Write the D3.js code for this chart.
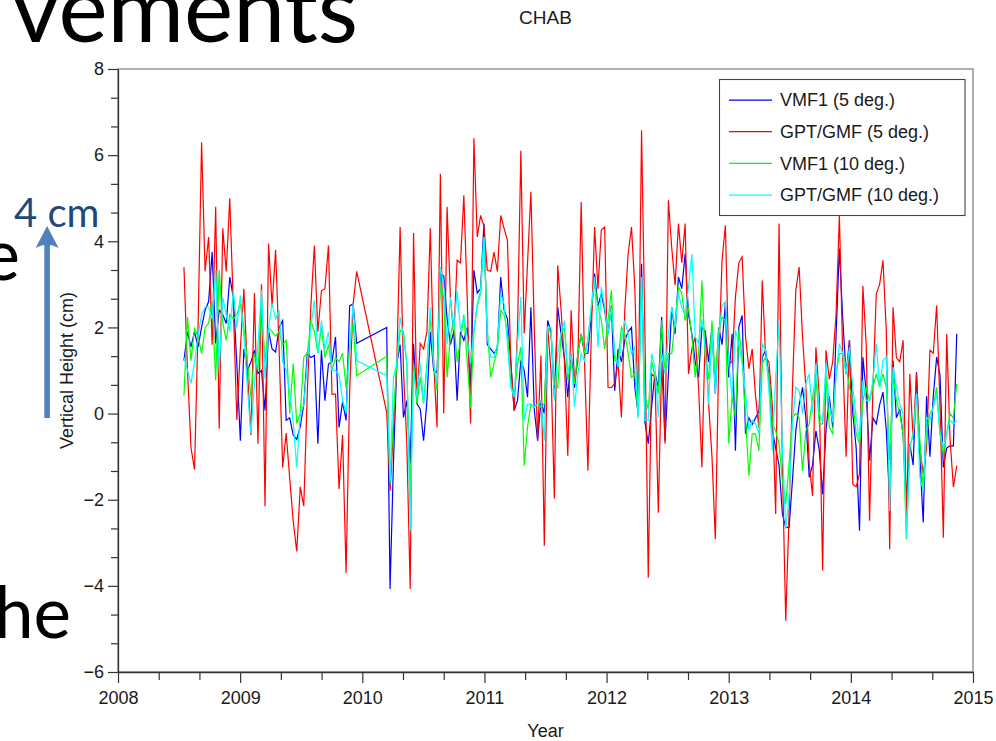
<!DOCTYPE html>
<html>
<head>
<meta charset="utf-8">
<script src="https://cdn.jsdelivr.net/npm/d3@7"></script>
<style>
  html, body { margin: 0; padding: 0; background: #fff; }
  svg { display: block; }
</style>
</head>
<body>
<svg id="fig" width="996" height="741"></svg>
<script>
// ---- Station CHAB: vertical height time series (cm) ----
const stationName = "CHAB";
const xLabel = "Year";
const yLabel = "Vertical Height (cm)";
const yearTicks = [2008, 2009, 2010, 2011, 2012, 2013, 2014, 2015];
const heightTicks = [-6, -4, -2, 0, 2, 4, 6, 8];
const seriesNames = ["VMF1 (5 deg.)", "GPT/GMF (5 deg.)", "VMF1 (10 deg.)", "GPT/GMF (10 deg.)"];
const seriesColors = ["#0000ff", "#ff0000", "#00ff00", "#00ffff"];

// Solution spans (decimal year); samples are evenly spaced inside each span
const spanEarly = [2008.540, 2009.954];
const spanLate = [2010.200, 2014.867];

// VMF1, 5 deg cutoff
const vmf5Early = [1.23, 1.9, 1.55, 1.9, 1.55, 2.0, 2.4, 2.6, 3.75, 1.63,
  2.4, 2.3, 2.09, 3.17, 2.7, 1.16, -0.63, 1.5, 1.0, 1.2,
  1.47, 0.93, 1.0, 0.07, 1.93, 1.5, 1.43, 2.0, 2.16, -0.16,
  -0.1, -0.5, -0.6, -0.3, 0.22, 1.4, 1.3, 1.35, -0.7, 1.47,
  0.3, 1.15, 1.2, 1.78, -0.32, 0.27, -0.16, 2.5, 2.55, 1.63];
const vmf5Late = [2.0, -4.07, -1.16, 1.16, 1.6, -0.09, 0.3, -1.16, 1.62, 0.23,
  0.1, -0.63, 0.3, 1.9, 1.0, 0.95, 3.25, 3.2, 2.2, 1.6,
  1.9, 0.3, 1.9, 1.7, 2.0, 0.6, 3.33, 2.8, 2.9, 4.41,
  1.6, 1.5, 1.4, 1.5, 3.17, 2.4, 2.2, 1.2, 0.07, 0.3,
  1.23, 1.0, 0.38, 2.47, 0.1, -0.63, 0.3, 0.0, 2.16, 1.9,
  0.38, 2.47, 1.85, 1.3, 0.38, 1.39, 0.6, 1.39, 1.85, 1.39,
  1.4, 2.3, 3.25, 2.5, 2.78, 2.4, 1.85, 2.5, 0.53, 1.5,
  1.2, 1.7, 1.9, 2.0, 0.6, 0.0, 3.48, -0.2, -0.7, 0.15,
  0.95, 0.6, 2.24, -0.63, 0.9, 2.47, 1.85, 3.17, 2.9, 3.71,
  2.3, 1.85, 1.2, 0.84, 2.0, 1.9, 1.2, 2.0, 0.46, 2.0,
  1.6, 2.55, 0.84, 1.85, -0.86, 2.0, 2.28, -0.47, -0.1, -0.25,
  -0.1, 0.05, 1.31, 1.47, 0.84, -0.4, -0.8, -1.2, -2.33, -2.64,
  -2.64, -1.55, -0.4, 0.2, 0.61, -0.1, -1.48, -1.2, -0.4, -0.85,
  -1.87, -0.4, 0.4, -0.32, 1.8, 3.83, 2.2, 0.92, 1.7, 0.0,
  -0.8, -2.72, 1.31, 0.5, -1.09, -0.1, -0.24, 0.2, 0.5, -0.4,
  -2.1, 1.23, -0.1, 0.1, -0.5, -2.02, -0.7, -1.2, 0.96, -1.0,
  -2.53, 0.4, -1.0, 0.4, 1.31, 0.9, -1.25, -0.8, -0.75, -0.75,
  1.85];

// GPT/GMF, 5 deg cutoff
const gpt5Early = [3.4, 1.0, -0.8, -1.3, 2.0, 6.3, 3.3, 4.1, 1.6, 4.8,
  -0.35, 4.3, 3.3, 5.0, 2.5, -0.15, 1.5, 2.9, 1.0, -0.5,
  2.8, -0.7, 3.0, -2.15, 3.95, 2.5, 3.8, 1.5, -1.25, -0.45,
  -1.5, -2.5, -3.2, -1.7, -2.15, 0.5, 2.5, 3.9, 1.9, 2.85,
  2.9, 3.9, 0.45, 0.45, -1.75, -0.5, -3.7, 0.5, 2.55, 3.3];
const gpt5Late = [0.03, -1.79, -0.4, 1.16, 4.33, 1.0, -0.7, -4.07, 4.19, 0.23,
  1.63, 1.5, 1.9, 4.3, 1.2, -0.32, 5.57, 0.0, 4.8, 2.7,
  1.8, 3.56, 3.5, 5.07, 2.7, -0.23, 6.39, 4.1, 4.6, 4.35,
  3.33, 3.3, 3.75, 3.3, 4.6, 4.3, 4.02, 1.2, 0.07, 1.9,
  6.1, 1.86, 3.5, 5.15, 2.0, -0.63, 1.35, -3.07, 2.0, 1.0,
  -1.98, 3.44, 2.4, 1.2, -0.98, 2.4, 0.77, 1.2, 4.91, 1.2,
  -1.33, 1.8, 4.33, 2.9, 4.26, 4.33, 0.61, 0.6, 0.7, 1.2,
  -0.09, 2.4, 3.71, 4.33, 2.9, 0.0, 6.58, 1.9, -3.81, 0.92,
  0.85, -2.3, 1.2, -0.7, 4.95, 3.85, 2.98, 4.41, 3.5, 4.41,
  0.92, 1.5, 1.78, 0.61, -1.25, 1.93, 0.22, -1.0, -2.92, 1.16,
  3.56, 4.37, 1.16, 1.2, 2.71, 3.5, 3.64, 1.8, 1.04, 1.5,
  0.4, -0.32, 3.09, 1.3, 1.2, 0.2, -2.33, 4.41, -1.25, -4.81,
  -2.3, 0.6, 2.86, 3.4, 1.8, 0.6, -1.17, -1.91, 1.54, 0.4,
  -3.65, 1.47, 0.8, 1.2, 2.3, 4.6, 1.3, -1.0, 1.7, -1.64,
  -1.7, -1.4, 2.96, 1.6, -2.49, 0.6, 2.78, 3.0, 3.56, 1.9,
  -3.15, 2.47, 1.3, 1.2, 1.7, -2.49, 0.92, -0.6, 0.92, -0.8,
  -1.4, -0.8, 1.47, 1.4, 2.51, 0.2, -2.88, 1.85, -0.6, -1.71,
  -1.21];

// VMF1, 10 deg cutoff
const vmf10Early = [0.42, 2.24, 1.23, 1.97, 1.8, 1.39, 2.0, 2.1, 2.6, 0.77,
  3.33, 2.1, 1.7, 2.3, 2.2, 2.3, 2.56, 2.0, 1.2, 0.38,
  1.4, 1.0, 2.56, 1.2, 2.0, 1.9, 1.8, 1.9, 1.6, 1.7,
  0.0, 1.16, -0.23, 0.0, 1.31, 1.4, 2.16, 1.9, 1.4, 2.0,
  1.3, 1.6, 1.0, 1.3, 1.2, 1.4, 0.61, 1.5, 2.1, 0.88];
const vmf10Late = [1.33, -1.64, -0.09, 1.16, 1.93, 1.9, 1.16, -1.95, 1.16, 0.23,
  0.84, 0.23, 1.16, 2.24, 1.16, 0.53, 3.02, 2.7, 0.84, 1.8,
  2.2, 1.2, 1.7, 2.3, 1.2, 0.15, 1.9, 2.5, 2.8, 4.1,
  2.0, 0.84, 1.16, 1.5, 2.4, 2.3, 1.9, 0.69, 0.4, 1.16,
  1.54, -1.21, -0.3, 0.22, 0.15, 0.22, 0.15, 0.22, 2.0, 1.85,
  0.69, 0.6, 1.85, 2.0, 0.77, 1.2, 0.69, 1.4, 1.85, 1.4,
  1.7, 2.47, 3.02, 2.5, 2.16, 1.5, 2.16, 2.86, 1.23, 1.23,
  2.0, 1.85, 1.39, 0.84, 0.92, -0.09, 3.09, 0.4, 0.1, 1.23,
  0.84, 0.46, 2.16, 0.92, 1.39, 1.39, 2.16, 2.94, 2.8, 2.16,
  2.47, 1.78, 0.84, 1.39, 3.09, 1.3, 0.8, 2.16, 0.77, 1.93,
  2.24, 2.16, -0.7, 0.4, -0.1, 1.93, 1.31, -0.09, -1.44, -0.47,
  -0.47, -0.86, 1.16, 1.31, 0.84, -0.24, -0.4, -0.7, -1.56, -2.1,
  -1.17, -0.09, 0.0, -0.09, -1.33, -0.4, -0.24, 0.38, 0.84, -0.24,
  -0.24, 0.84, -0.32, -0.47, 0.9, 1.39, 1.39, 1.1, 0.61, 0.3,
  -0.47, -0.7, 0.3, 0.6, 0.3, 0.61, 0.92, 0.61, 0.92, 0.61,
  -1.09, 0.92, 0.3, 0.0, -0.47, -2.92, -0.78, -0.47, 0.46, -0.63,
  -1.79, -0.47, 0.0, 0.15, 0.61, -0.47, -0.94, -0.47, 0.0, -0.1,
  0.69];

// GPT/GMF, 10 deg cutoff
const gpt10Early = [1.31, 1.0, 0.7, 1.2, 1.8, 2.3, 2.47, 2.47, 2.2, 3.33,
  1.0, 2.7, 2.3, 1.9, 2.86, 2.0, 2.74, 1.8, 0.6, -0.47,
  0.7, 1.6, 2.86, 0.8, 2.0, 2.56, 2.2, 2.4, 1.2, 1.0,
  0.5, -0.2, -1.25, 0.0, 0.2, 1.2, 2.0, 2.63, 1.4, 2.16,
  1.5, 1.9, 1.0, 1.0, 0.9, 0.3, 0.0, 1.5, 2.56, 1.23];
const gpt10Late = [0.88, -1.56, 0.84, 1.16, 2.24, 1.78, 1.16, -2.72, 1.0, 0.38,
  1.16, 0.23, 1.0, 2.47, 1.16, 0.7, 3.4, 3.02, 1.62, 2.7,
  1.93, 2.86, 1.93, 2.24, 1.78, 1.16, 1.93, 2.55, 2.86, 4.1,
  1.78, 1.31, 1.31, 1.62, 2.78, 2.55, 1.62, 0.61, 0.38, 1.62,
  2.71, -0.16, 0.22, 0.22, 0.15, 0.22, 0.3, -0.63, 2.0, 2.0,
  0.3, 1.4, 1.85, 2.16, 0.92, 1.39, 0.15, 0.92, 1.39, 1.23,
  1.7, 2.47, 3.17, 1.54, 2.94, 2.47, 1.85, 2.47, 1.39, 1.08,
  1.7, 2.16, 1.85, 1.39, 1.54, -0.09, 3.17, -0.16, -0.16, 1.39,
  1.08, -0.09, 1.39, 0.92, 1.85, 2.47, 2.0, 2.78, 2.47, 2.3,
  2.94, 3.71, 1.78, 1.62, 2.2, 1.5, 0.22, 1.93, 0.46, 1.78,
  2.5, 2.6, 1.16, 0.38, 1.93, 1.62, 1.16, 0.5, -0.4, -0.16,
  -0.24, -0.47, 1.62, 1.47, 0.53, -0.86, 0.84, 2.12, -0.78, -2.68,
  -1.94, -0.24, 0.61, 0.53, 0.0, 0.7, 0.92, 0.0, 1.16, 0.0,
  -0.2, 1.16, 0.2, -0.2, 0.9, 1.62, 1.39, 0.92, 1.54, 0.61,
  -0.09, -0.63, 0.77, 0.3, 0.3, 0.77, 1.62, 0.61, 1.23, 1.31,
  -2.26, 1.08, 0.61, 0.22, 0.0, -2.88, -0.78, -0.47, 0.46, -1.48,
  -1.79, -0.09, -0.16, 0.15, 0.46, -0.47, -0.78, -0.47, -0.16, -0.24,
  -0.16];

// ---- layout ----
const svg = d3.select("#fig");
const W = 996, H = 741;
const plot = { left: 118, right: 973, top: 69, bottom: 672 };
const chartFont = '"Liberation Sans", Arial, Helvetica, sans-serif';
const slideFont = 'Lato, "Open Sans", sans-serif';
const inkColor = "#1a1a1a";

svg.append("rect").attr("width", W).attr("height", H).attr("fill", "#fff");

const x = d3.scaleLinear().domain([2008, 2015]).range([plot.left, plot.right]);
const y = d3.scaleLinear().domain([-6, 8]).range([plot.bottom, plot.top]);

// epochs evenly spaced within a span
function spanEpochs(span, n) {
  return d3.range(n).map(i => span[0] + i * (span[1] - span[0]) / (n - 1));
}

const seriesData = [
  [vmf5Early, vmf5Late],
  [gpt5Early, gpt5Late],
  [vmf10Early, vmf10Late],
  [gpt10Early, gpt10Late]
].map(([early, late], k) => {
  const t = spanEpochs(spanEarly, early.length).concat(spanEpochs(spanLate, late.length));
  const v = early.concat(late);
  return { name: seriesNames[k], color: seriesColors[k], points: t.map((tt, i) => [tt, v[i]]) };
});

// plot frame (top / right edges)
svg.append("rect")
  .attr("x", plot.left).attr("y", plot.top)
  .attr("width", plot.right - plot.left).attr("height", plot.bottom - plot.top)
  .attr("fill", "none").attr("stroke", "#7a7a7a").attr("stroke-width", 1.2);

// series lines
svg.append("clipPath").attr("id", "plotClip").append("rect")
  .attr("x", plot.left).attr("y", plot.top)
  .attr("width", plot.right - plot.left).attr("height", plot.bottom - plot.top);

const line = d3.line().x(d => x(d[0])).y(d => y(d[1]));
svg.append("g").attr("clip-path", "url(#plotClip)")
  .selectAll("path").data(seriesData).join("path")
  .attr("d", d => line(d.points))
  .attr("fill", "none")
  .attr("stroke", d => d.color)
  .attr("stroke-width", 1.2)
  .attr("stroke-linejoin", "miter");

// axes
function styleAxis(g) {
  g.attr("font-size", 18).attr("font-family", chartFont);
  g.selectAll(".domain").attr("stroke", "#333").attr("stroke-width", 1.3);
  g.selectAll(".tick line").attr("stroke", "#333").attr("stroke-width", 1.2);
  g.selectAll(".tick text").attr("fill", inkColor);
}

const minorYears = d3.range(2008, 2015).flatMap(v => [v + 1 / 3, v + 2 / 3]);
const minorHeights = d3.range(-6, 8, 2).flatMap(v => [v + 2 / 3, v + 4 / 3]);

svg.append("g").attr("transform", `translate(0,${plot.bottom})`)
  .call(d3.axisBottom(x).tickValues(minorYears).tickFormat("").tickSize(8).tickSizeOuter(0))
  .call(styleAxis).call(g => g.select(".domain").remove());
svg.append("g").attr("transform", `translate(0,${plot.bottom})`)
  .call(d3.axisBottom(x).tickValues(yearTicks).tickFormat(d3.format("d"))
    .tickSize(11).tickSizeOuter(0).tickPadding(8))
  .call(styleAxis);

svg.append("g").attr("transform", `translate(${plot.left},0)`)
  .call(d3.axisLeft(y).tickValues(minorHeights).tickFormat("").tickSize(7).tickSizeOuter(0))
  .call(styleAxis).call(g => g.select(".domain").remove());
svg.append("g").attr("transform", `translate(${plot.left},0)`)
  .call(d3.axisLeft(y).tickValues(heightTicks).tickFormat(d3.format("d"))
    .tickSize(10).tickSizeOuter(0).tickPadding(4))
  .call(styleAxis);

// titles
const cx = (plot.left + plot.right) / 2;
svg.append("text").attr("x", cx).attr("y", 24)
  .attr("text-anchor", "middle").attr("font-family", chartFont).attr("font-size", 19)
  .attr("fill", inkColor).text(stationName);
svg.append("text").attr("x", cx).attr("y", 737)
  .attr("text-anchor", "middle").attr("font-family", chartFont).attr("font-size", 18)
  .attr("fill", inkColor).text(xLabel);
svg.append("text").attr("transform", `translate(73,${(plot.top + plot.bottom) / 2}) rotate(-90)`)
  .attr("text-anchor", "middle").attr("font-family", chartFont).attr("font-size", 18)
  .attr("fill", inkColor).text(yLabel);

// legend
const legend = svg.append("g");
legend.append("rect").attr("x", 719.5).attr("y", 79.5).attr("width", 245.5).attr("height", 136)
  .attr("fill", "#fff").attr("stroke", "#444").attr("stroke-width", 1.1);
const rowY = [100, 131.7, 163.3, 195];
const rows = legend.selectAll("g.row").data(seriesData).join("g").attr("class", "row")
  .attr("transform", (d, i) => `translate(0,${rowY[i]})`);
rows.append("line").attr("x1", 729).attr("x2", 772).attr("y1", 0).attr("y2", 0)
  .attr("stroke", d => d.color).attr("stroke-width", 1.25);
rows.append("text").attr("x", 780).attr("dy", "0.36em")
  .attr("font-family", chartFont).attr("font-size", 18).attr("fill", inkColor)
  .text(d => d.name);

// surrounding slide text and the 4 cm scale arrow
svg.append("text").attr("x", 358).attr("y", 42).attr("text-anchor", "end")
  .attr("font-family", slideFont).attr("font-size", 93).attr("fill", "#000").text("vements");
svg.append("text").attr("x", 20).attr("y", 280).attr("text-anchor", "end")
  .attr("font-family", slideFont).attr("font-size", 71).attr("fill", "#000").text("e");
svg.append("text").attr("x", 71).attr("y", 638).attr("text-anchor", "end")
  .attr("font-family", slideFont).attr("font-size", 71).attr("fill", "#000").text("he");

svg.append("text").attr("x", 14).attr("y", 227)
  .attr("font-family", slideFont).attr("font-size", 40).attr("fill", "#1F497D").text("4 cm");

const arrow = svg.append("g").attr("fill", "#4F81BD");
arrow.append("rect").attr("x", 44.3).attr("y", 240).attr("width", 5.6).attr("height", 178);
arrow.append("path").attr("d", "M47.1,226 L58.6,248 Q47.1,241 35.6,248 Z");
</script>
</body>
</html>
